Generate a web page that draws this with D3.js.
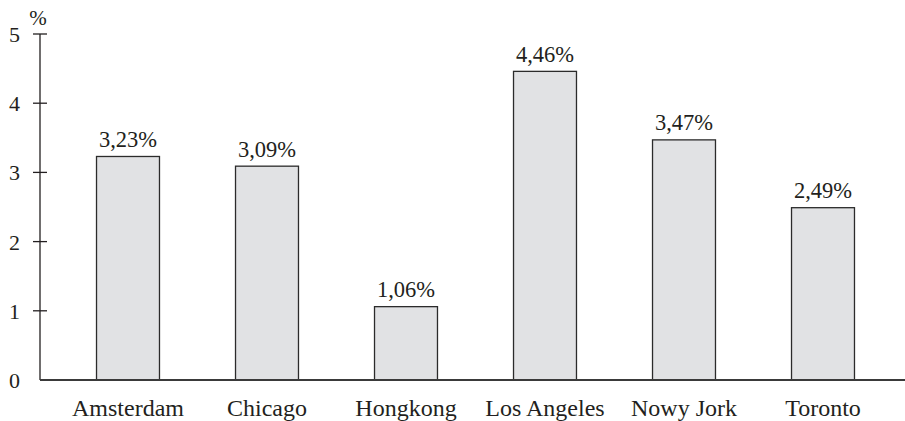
<!DOCTYPE html>
<html>
<head>
<meta charset="utf-8">
<script src="https://cdn.jsdelivr.net/npm/d3@7"></script>
<style>
  body { margin: 0; background: #fff; }
  text { font-family: "Liberation Serif", "DejaVu Serif", serif; fill: #231f20; }
</style>
</head>
<body>
<div id="chart"></div>
<script>
// data
const cities = ["Amsterdam", "Chicago", "Hongkong", "Los Angeles", "Nowy Jork", "Toronto"];
const shares = [3.23, 3.09, 1.06, 4.46, 3.47, 2.49];
const shareLabels = ["3,23%", "3,09%", "1,06%", "4,46%", "3,47%", "2,49%"];
const yTicks = [0, 1, 2, 3, 4, 5];

const width = 905, height = 421;
const axisX = 40, axisY = 380, topY = 34;

const svg = d3.select("#chart")
    .append("svg")
    .attr("width", width)
    .attr("height", height);

// x: one band per city
const x = d3.scaleBand()
    .domain(cities)
    .range([58.5, 892.5])
    .paddingInner(0.547)
    .paddingOuter(0.2735);

const y = d3.scaleLinear()
    .domain([0, 5])
    .range([axisY, topY]);

// bars
svg.append("g")
    .selectAll("rect")
    .data(cities)
    .join("rect")
      .attr("x", d => x(d))
      .attr("y", (d, i) => y(shares[i]))
      .attr("width", x.bandwidth())
      .attr("height", (d, i) => y(0) - y(shares[i]))
      .attr("fill", "#e1e2e4")
      .attr("stroke", "#2b2b2b")
      .attr("stroke-width", 1.3);

// value labels above the bars
svg.append("g")
    .selectAll("text")
    .data(cities)
    .join("text")
      .attr("x", d => x(d) + x.bandwidth() / 2)
      .attr("y", (d, i) => y(shares[i]) - 9.5)
      .attr("text-anchor", "middle")
      .style("font-size", "22.5px")
      .text((d, i) => shareLabels[i]);

// y axis: ticks cross the line on both sides
const yAxis = svg.append("g");
yAxis.append("line")
    .attr("x1", axisX).attr("x2", axisX)
    .attr("y1", y(5)).attr("y2", y(0))
    .attr("stroke", "#231f20")
    .attr("stroke-width", 1.3);
yAxis.selectAll("line.tick")
    .data(yTicks.filter(d => d > 0))
    .join("line")
      .attr("class", "tick")
      .attr("x1", axisX - 7).attr("x2", axisX + 7)
      .attr("y1", d => y(d)).attr("y2", d => y(d))
      .attr("stroke", "#231f20")
      .attr("stroke-width", 1.3);
yAxis.selectAll("text")
    .data(yTicks)
    .join("text")
      .attr("x", 20)
      .attr("y", d => y(d) + 8)
      .attr("text-anchor", "end")
      .style("font-size", "22px")
      .text(d => d);

// unit
svg.append("text")
    .attr("x", 38)
    .attr("y", 25)
    .attr("text-anchor", "middle")
    .style("font-size", "21px")
    .text("%");

// x axis
svg.append("line")
    .attr("x1", axisX).attr("x2", width)
    .attr("y1", axisY).attr("y2", axisY)
    .attr("stroke", "#3a3a3a")
    .attr("stroke-width", 1.8);

svg.append("g")
    .selectAll("text")
    .data(cities)
    .join("text")
      .attr("x", d => x(d) + x.bandwidth() / 2)
      .attr("y", 416)
      .attr("text-anchor", "middle")
      .style("font-size", "24px")
      .text(d => d);
</script>
</body>
</html>
